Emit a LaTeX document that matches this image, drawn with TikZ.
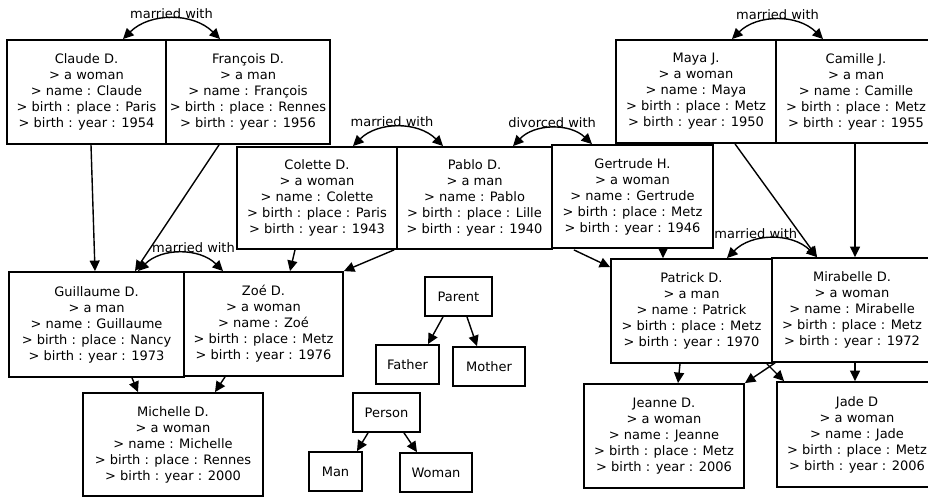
\documentclass[tikz,border=0pt]{standalone}
\usepackage{fontspec}
\setmainfont{DejaVu Sans}
\usetikzlibrary{arrows.meta}
\newcommand{\famtext}[5]{#1\\> a #2\\> name : #3\\> birth : place : #4\\> birth : year : #5}
\begin{document}
\begin{tikzpicture}[x=1pt, y=-1pt, >={Triangle[length=10.5pt,width=10pt]},
	box/.style={draw, line width=1.8pt, fill=white, align=center, inner sep=0pt, font=\fontsize{13}{16}\selectfont},
	link/.style={->, line width=1.4pt},
	couple/.style={<->, line width=1.4pt},
	tag/.style={font=\fontsize{13}{16}\selectfont, inner sep=0pt}]
	\useasboundingbox (0,0) rectangle (928,497);
	\clip (0,0) rectangle (928,497);
	\node[box, minimum width=159pt, minimum height=104pt] (claude) at (86.5,92) {\famtext{Claude D.}{woman}{Claude}{Paris}{1954}};
	\node[box, minimum width=164pt, minimum height=104pt] (francois) at (248,92) {\famtext{François D.}{man}{François}{Rennes}{1956}};
	\node[box, minimum width=160pt, minimum height=102pt] (colette) at (317,198) {\famtext{Colette D.}{woman}{Colette}{Paris}{1943}};
	\node[box, minimum width=155pt, minimum height=102pt] (pablo) at (474.5,198) {\famtext{Pablo D.}{man}{Pablo}{Lille}{1940}};
	\node[box, minimum width=161pt, minimum height=103pt] (gertrude) at (632.5,196.5) {\famtext{Gertrude H.}{woman}{Gertrude}{Metz}{1946}};
	\node[box, minimum width=160pt, minimum height=103pt] (maya) at (696,91.5) {\famtext{Maya J.}{woman}{Maya}{Metz}{1950}};
	\node[box, minimum width=160pt, minimum height=103pt] (camille) at (856,91.5) {\famtext{Camille J.}{man}{Camille}{Metz}{1955}};
	\node[box, minimum width=175pt, minimum height=105pt] (guillaume) at (96.5,324.5) {\famtext{Guillaume D.}{man}{Guillaume}{Nancy}{1973}};
	\node[box, minimum width=159pt, minimum height=104pt] (zoe) at (263.5,324) {\famtext{Zoé D.}{woman}{Zoé}{Metz}{1976}};
	\node[box, minimum width=180pt, minimum height=103pt] (michelle) at (173,444.5) {\famtext{Michelle D.}{woman}{Michelle}{Rennes}{2000}};
	\node[box, minimum width=161pt, minimum height=104pt] (patrick) at (691.5,311) {\famtext{Patrick D.}{man}{Patrick}{Metz}{1970}};
	\node[box, minimum width=160pt, minimum height=104pt] (mirabelle) at (852,310) {\famtext{Mirabelle D.}{woman}{Mirabelle}{Metz}{1972}};
	\node[box, minimum width=160pt, minimum height=104pt] (jeanne) at (664,436) {\famtext{Jeanne D.}{woman}{Jeanne}{Metz}{2006}};
	\node[box, minimum width=160pt, minimum height=105pt] (jade) at (857,434.5) {\famtext{Jade D}{woman}{Jade}{Metz}{2006}};
	\node[box, minimum width=67pt, minimum height=39pt] (parent) at (458.5,296.5) {Parent};
	\node[box, minimum width=63pt, minimum height=39pt] (father) at (407.5,364.5) {Father};
	\node[box, minimum width=72pt, minimum height=39pt] (mother) at (489,366.5) {Mother};
	\node[box, minimum width=67pt, minimum height=39pt] (person) at (386.5,412.5) {Person};
	\node[box, minimum width=53pt, minimum height=39pt] (man) at (335.5,471.5) {Man};
	\node[box, minimum width=72pt, minimum height=39pt] (woman) at (436,472.5) {Woman};
	\draw[link] ([xshift=4.5pt]claude.south) -- ([xshift=-1.5pt]guillaume.north);
	\draw[link] ([xshift=-29pt]francois.south) -- ([xshift=38.5pt]guillaume.north);
	\draw[link] ([xshift=-22pt]colette.south) -- ([xshift=26.5pt]zoe.north);
	\draw[link] ([xshift=-2pt]pablo.south west) -- (zoe.north east);
	\draw[link] ([xshift=21pt]pablo.south east) -- ([yshift=-9pt]patrick.north west);
	\draw[link] ([xshift=30.5pt]gertrude.south) -- ([xshift=-28.5pt]patrick.north);
	\draw[link] ([xshift=39pt]maya.south) -- ([xshift=-35pt]mirabelle.north);
	\draw[link] ([xshift=-1pt]camille.south) -- ([xshift=3pt]mirabelle.north);
	\draw[link] ([xshift=35.5pt]guillaume.south) -- ([xshift=-35pt]michelle.north);
	\draw[link] ([xshift=-38.5pt]zoe.south) -- ([xshift=42pt]michelle.north);
	\draw[link] ([xshift=-11.5pt]patrick.south) -- ([xshift=14pt]jeanne.north);
	\draw[link] ([xshift=-6pt]patrick.south east) -- ([xshift=8pt]jade.north west);
	\draw[link] ([xshift=4pt]mirabelle.south west) -- (jeanne.north east);
	\draw[link] ([xshift=3pt]mirabelle.south) -- ([xshift=-2pt]jade.north);
	\draw[link] ([xshift=-15.5pt]parent.south) -- ([xshift=20.5pt]father.north);
	\draw[link] ([xshift=8.5pt]parent.south) -- ([xshift=-12pt]mother.north);
	\draw[link] ([xshift=-18.5pt]person.south) -- ([xshift=21.5pt]man.north);
	\draw[link] ([xshift=17.5pt]person.south) -- ([xshift=-19pt]woman.north);
	\draw[couple] ([xshift=36.5pt]claude.north) to[bend left=45] node[tag, midway, above] {married with} ([xshift=-28pt]francois.north);
	\draw[couple] ([xshift=36pt]colette.north) to[bend left=45] node[tag, midway, above, xshift=-6pt] {married with} ([xshift=-31.5pt]pablo.north);
	\draw[couple] ([xshift=38.5pt]pablo.north) to[bend left=45] node[tag, midway, above] {divorced with} ([xshift=-40.5pt]gertrude.north);
	\draw[couple] ([xshift=36pt]maya.north) to[bend left=45] node[tag, midway, above] {married with} ([xshift=-33pt]camille.north);
	\draw[couple] ([xshift=41.5pt]guillaume.north) to[bend left=45] node[tag, midway, above, xshift=13pt] {married with} ([xshift=-40.5pt]zoe.north);
	\draw[couple] ([xshift=35.5pt]patrick.north) to[bend left=45] node[tag, midway, above, xshift=-16pt] {married with} ([xshift=-35pt]mirabelle.north);
\end{tikzpicture}
\end{document}
